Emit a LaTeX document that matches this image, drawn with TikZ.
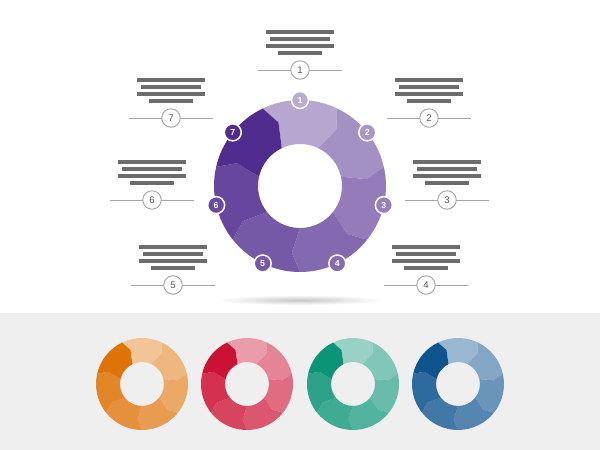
\documentclass[tikz,border=0pt]{standalone}
\usepackage{xcolor}
\usepackage{tikz}
\usepackage{fontspec}
\setmainfont{Liberation Sans}
\definecolor{ringpurple}{RGB}{80,44,142}
\definecolor{ringorange}{RGB}{222,116,8}
\definecolor{ringred}{RGB}{204,18,52}
\definecolor{ringteal}{RGB}{12,148,118}
\definecolor{ringblue}{RGB}{14,84,142}
\definecolor{bargrey}{RGB}{108,108,108}
\definecolor{rulegrey}{RGB}{165,165,165}
\definecolor{bandgrey}{RGB}{239,239,239}

% one ring of seven puzzle pieces: centre x, centre y, outer radius, inner radius, colour
\newcommand{\puzzlering}[5]{%
  \foreach \k/\shade in {1/42,2/52,3/62,4/71,5/79,6/87,7/100} {
    \pgfmathsetmacro{\amid}{90-(\k-1)*360/7}
    \pgfmathsetmacro{\aone}{\amid+25.714}
    \pgfmathsetmacro{\atwo}{\amid-25.714}
    \fill[#5!\shade!white]
      ([shift={(\aone:#3)}]#1,#2) arc[start angle=\aone, end angle=\atwo, radius=#3]
      -- ([shift={(\atwo-7:0.78*#3)}]#1,#2) -- ([shift={(\atwo:#4)}]#1,#2)
      arc[start angle=\atwo, end angle=\aone, radius=#4]
      -- ([shift={(\aone-7:0.78*#3)}]#1,#2) -- cycle;
  }%
}

% placeholder text block with its numbered tag: number, x, y
\newcommand{\textstub}[3]{%
  \fill[bargrey] (#2-34,#3+36) rectangle (#2+34,#3+40);
  \fill[bargrey] (#2-30,#3+29) rectangle (#2+30,#3+33);
  \fill[bargrey] (#2-34,#3+22) rectangle (#2+34,#3+26);
  \fill[bargrey] (#2-22,#3+15) rectangle (#2+22,#3+19);
  \coordinate (left#1) at (#2-42,#3);
  \coordinate (right#1) at (#2+42,#3);
  \draw[rulegrey, line width=0.55pt] (left#1) -- (right#1);
  \node[tagcircle] (tag#1) at (#2,#3) {#1};
}

\begin{document}
\begin{tikzpicture}[x=0.02cm, y=0.02cm,
  badge/.style={circle, draw=white, line width=0.85pt, minimum size=3.4mm, inner sep=0pt,
    text=white, font=\fontsize{5}{6}\selectfont\bfseries},
  tagcircle/.style={circle, draw=rulegrey, line width=0.55pt, fill=white, minimum size=3.7mm,
    inner sep=0pt, text=black!65, font=\fontsize{5.5}{6}\selectfont}]
  \useasboundingbox (0,0) rectangle (600,450);
  \fill[white] (0,0) rectangle (600,450);
  \fill[bandgrey] (0,0) rectangle (600,137);

  % shadow under the big ring
  \shade[inner color=black!22, outer color=white] (300,150) ellipse [x radius=84, y radius=5];

  % big ring
  \puzzlering{300}{264}{86}{42}{ringpurple}
  \foreach \k/\shade in {1/40,2/50,3/60,4/69,5/78,6/86,7/100} {
    \pgfmathsetmacro{\bangle}{90-(\k-1)*360/7}
    \node[badge, fill=ringpurple!\shade!white] (badge\k) at ([shift={(\bangle:86)}]300,264) {\k};
  }

  % text blocks
  \textstub{1}{300}{380}
  \textstub{2}{429}{332}
  \textstub{3}{447}{250}
  \textstub{4}{426}{165}
  \textstub{5}{173}{165}
  \textstub{6}{152}{250}
  \textstub{7}{171}{332}

  % colour variants
  \puzzlering{142}{66}{46}{22}{ringorange}
  \puzzlering{247}{66}{46}{22}{ringred}
  \puzzlering{353}{66}{46}{22}{ringteal}
  \puzzlering{458}{66}{46}{22}{ringblue}
\end{tikzpicture}
\end{document}
